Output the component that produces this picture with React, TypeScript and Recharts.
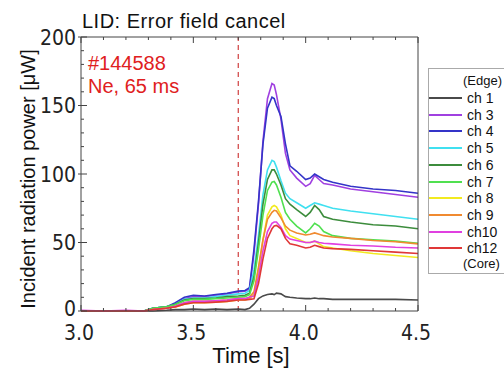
import React from 'react';
import { LineChart, Line, XAxis, YAxis, ReferenceLine } from 'recharts';

// time base [s]
const time = [3.0, 3.1, 3.2, 3.28, 3.32, 3.38, 3.42, 3.46, 3.5, 3.55, 3.6, 3.65, 3.7, 3.73, 3.75, 3.77, 3.79, 3.81, 3.83, 3.85, 3.86, 3.87, 3.89, 3.91, 3.93, 3.96, 4.0, 4.02, 4.04, 4.06, 4.08, 4.12, 4.2, 4.3, 4.4, 4.5];

// incident radiation power [uW] per channel
const ch1 = [0, 0, 0, 0, 0, 0.5, 1, 1, 1.5, 1, 1.5, 1, 1.5, 1, 2, 5, 9, 11, 12, 12.5, 12, 13, 12.5, 10.5, 10, 9.5, 9, 9, 9.5, 9, 9, 8.5, 8.5, 8.5, 8.5, 8];
const ch3 = [0, 0, 0, 0, 2, 3, 5.5, 9, 10.5, 10.5, 11.5, 12.5, 14, 14.5, 16, 42, 78, 124, 155, 166, 165, 158, 140, 115, 103, 97, 91, 93, 99, 96, 93, 92, 89, 87, 85, 83];
const ch4 = [0, 0, 0, 0, 2, 3, 6, 10, 11.5, 11, 12, 13, 14.5, 15, 17, 45, 80, 122, 148, 156, 155, 150, 142, 122, 106, 102, 96, 97, 100, 98, 96, 94, 91, 89, 88, 86];
const ch5 = [0, 0, 0, 0, 2, 3, 5, 8.5, 9.5, 9.5, 10.5, 11.5, 12.5, 13, 15, 30, 55, 85, 103, 110, 109, 105, 95, 86, 82, 79, 75, 77, 79, 78, 77, 75, 73, 71, 69, 67];
const ch6 = [0, 0, 0, 0, 2, 3, 5, 8, 9, 9, 9.5, 10.5, 11, 11.5, 13, 25, 50, 78, 96, 103, 103, 100, 92, 82, 78, 74, 69, 72, 77, 74, 69, 67, 65, 63, 62, 60];
const ch7 = [0, 0, 0, 0, 2, 3, 4.5, 7.5, 8.5, 8.5, 9, 9.5, 10, 10.5, 12, 22, 45, 70, 88, 94, 94.5, 92, 83, 72, 67, 62, 57, 60, 64, 62, 58, 55, 53, 52, 51, 49.5];
const ch8 = [0, 0, 0, 0, 1, 2, 3, 5, 6, 6, 6.5, 7, 8, 8, 9, 12, 30, 52, 70, 76, 77, 76, 70, 60, 55, 53, 50, 50, 51, 49, 47, 46, 44, 42, 40.5, 39];
const ch9 = [0, 0, 0, 0, 1, 2, 3.5, 6, 7, 7, 7.5, 8, 9, 9, 10, 14, 32, 52, 67, 72, 73.5, 73, 68, 62, 59, 57, 55.5, 56, 57, 56, 55, 54, 53, 51.5, 50.5, 49];
const ch10 = [0.5, 0, 0.5, 0, 1, 2, 3.5, 6, 7, 7, 7.5, 8, 9, 9, 10, 11, 25, 44, 58, 64, 65, 65, 61, 55, 52.5, 51.5, 50, 50, 51, 50, 49.5, 49, 48, 47.5, 46.5, 46];
const ch12 = [0, 0, 0, 0, 1, 2, 3, 5, 6, 6, 6.5, 7, 8, 8, 8.5, 9, 20, 38, 53, 60, 62, 62.5, 60, 53, 49, 48, 46, 46.5, 48, 47, 46, 45.5, 45, 44, 43, 42];

const channels = [
  { key: 'ch1', name: 'ch 1', values: ch1, color: '#4a4a4a' },
  { key: 'ch3', name: 'ch 3', values: ch3, color: '#a040e0' },
  { key: 'ch4', name: 'ch 4', values: ch4, color: '#3434c8' },
  { key: 'ch5', name: 'ch 5', values: ch5, color: '#40e0f0' },
  { key: 'ch6', name: 'ch 6', values: ch6, color: '#3c8c3c' },
  { key: 'ch7', name: 'ch 7', values: ch7, color: '#50e050' },
  { key: 'ch8', name: 'ch 8', values: ch8, color: '#f2ea20' },
  { key: 'ch9', name: 'ch 9', values: ch9, color: '#f08a30' },
  { key: 'ch10', name: 'ch10', values: ch10, color: '#e040e0' },
  { key: 'ch12', name: 'ch12', values: ch12, color: '#e03838' },
];

const xTicks = [3.0, 3.1, 3.2, 3.3, 3.4, 3.5, 3.6, 3.7, 3.8, 3.9, 4.0, 4.1, 4.2, 4.3, 4.4, 4.5];
const xMajor = [3.0, 3.5, 4.0, 4.5];
const yTicks = [0, 10, 20, 30, 40, 50, 60, 70, 80, 90, 100, 110, 120, 130, 140, 150, 160, 170, 180, 190, 200];
const yMajor = [0, 50, 100, 150, 200];

const shotLabel = '#144588';
const gasLabel = 'Ne, 65 ms';
const puffTime = 3.7;

const data = time.map((t, i) => {
  const row: any = { t };
  channels.forEach((c) => { row[c.key] = c.values[i]; });
  return row;
});

const FONT = '"Liberation Sans", Arial, sans-serif';
const NARROW = '"Liberation Sans Narrow", "DejaVu Sans Condensed", "Liberation Sans", Arial, sans-serif';
const TS = 6; // tickSize
const TM = 2; // tickMargin
const isMajorX = (v: number) => xMajor.some((m) => Math.abs(m - v) < 1e-6);
const isMajorY = (v: number) => yMajor.includes(v);

const BottomTick = ({ x, y, payload }: any) => {
  const base = y - TS - TM;
  const major = isMajorX(payload.value);
  return (
    <g>
      <line x1={x} x2={x} y1={base} y2={base - (major ? 6 : 3)} stroke="#444" />
      {major && (
        <text x={x - 2} y={base + 29} textAnchor="middle" fontSize={21} fontFamily={NARROW} fill="#222">
          {payload.value.toFixed(1)}
        </text>
      )}
    </g>
  );
};

const TopTick = ({ x, y, payload }: any) => {
  const base = y + TS + TM;
  const major = isMajorX(payload.value);
  return <line x1={x} x2={x} y1={base} y2={base + (major ? 6 : 3)} stroke="#444" />;
};

const LeftTick = ({ x, y, payload }: any) => {
  const base = x + TS + TM;
  const major = isMajorY(payload.value);
  return (
    <g>
      <line x1={base} x2={base + (major ? 6 : 3)} y1={y} y2={y} stroke="#444" />
      {major && <line x1={base} x2={base - 3} y1={y} y2={y} stroke="#444" />}
      {major && (
        <text x={base - 5} y={payload.value === 0 ? y - 3 : y} dy="0.36em" textAnchor="end" fontSize={21} fontFamily={NARROW} fill="#222">
          {payload.value}
        </text>
      )}
    </g>
  );
};

const RightTick = ({ x, y, payload }: any) => {
  const base = x - TS - TM;
  const major = isMajorY(payload.value);
  return <line x1={base} x2={base - (major ? 6 : 3)} y1={y} y2={y} stroke="#444" />;
};

const abs = (left: number, top: number, extra: React.CSSProperties = {}): React.CSSProperties => ({
  position: 'absolute', left, top, fontFamily: FONT, whiteSpace: 'nowrap', lineHeight: 1.15, ...extra,
});

export default function App() {
  return (
    <div style={{ position: 'absolute', left: 0, top: 0, width: 504, height: 370, overflow: 'hidden', background: '#fff' }}>
      <LineChart width={504} height={370} data={data} margin={{ top: 36, right: 85, bottom: 29, left: 21 }}>
        <XAxis dataKey="t" type="number" domain={[3, 4.5]} ticks={xTicks} interval={0} height={30}
          axisLine={{ stroke: '#444' }} tickLine={false} tickSize={TS} tickMargin={TM} tick={<BottomTick />} />
        <XAxis xAxisId="top" orientation="top" dataKey="t" type="number" domain={[3, 4.5]} ticks={xTicks} interval={0} height={1}
          axisLine={{ stroke: '#444' }} tickLine={false} tickSize={TS} tickMargin={TM} tick={<TopTick />} />
        <YAxis type="number" domain={[0, 200]} ticks={yTicks} interval={0} width={60}
          axisLine={{ stroke: '#444' }} tickLine={false} tickSize={TS} tickMargin={TM} tick={<LeftTick />} />
        <YAxis yAxisId="right" orientation="right" type="number" domain={[0, 200]} ticks={yTicks} interval={0} width={1}
          axisLine={{ stroke: '#444' }} tickLine={false} tickSize={TS} tickMargin={TM} tick={<RightTick />} />
        <ReferenceLine x={puffTime} stroke="#d04040" strokeWidth={1.2} strokeDasharray="5 4" />
        {channels.map((c) => (
          <Line key={c.key} dataKey={c.key} name={c.name} stroke={c.color} strokeWidth={1.6}
            dot={false} type="linear" isAnimationActive={false} />
        ))}
      </LineChart>

      <div style={abs(82, 10, { fontSize: 20, letterSpacing: 0.5, color: '#111' })}>LID: Error field cancel</div>
      <div style={abs(88, 52, { fontSize: 20, color: '#e02020' })}>{shotLabel}</div>
      <div style={abs(88, 75, { fontSize: 20, color: '#e02020' })}>{gasLabel}</div>
      <div style={abs(28, 179, { fontSize: 20, color: '#111', transform: 'translate(-50%, -50%) rotate(-90deg)' })}>
        Incident radiation power [μW]
      </div>
      <div style={abs(251, 343, { fontSize: 22, color: '#111', transform: 'translateX(-50%)' })}>Time [s]</div>

      <div style={abs(428, 68, { width: 90, height: 204, border: '1px solid #aaa', fontSize: 13, color: '#111' })}>
        <div style={abs(34, 5)}>(Edge)</div>
        {channels.map((c, i) => (
          <div key={c.key} style={abs(0, 21 + i * 16.7, { display: 'flex', alignItems: 'center' })}>
            <div style={{ width: 33, height: 2, background: c.color, marginRight: 5 }} />
            <span style={{ fontSize: 14 }}>{c.name}</span>
          </div>
        ))}
        <div style={abs(34, 188)}>(Core)</div>
      </div>
    </div>
  );
}
